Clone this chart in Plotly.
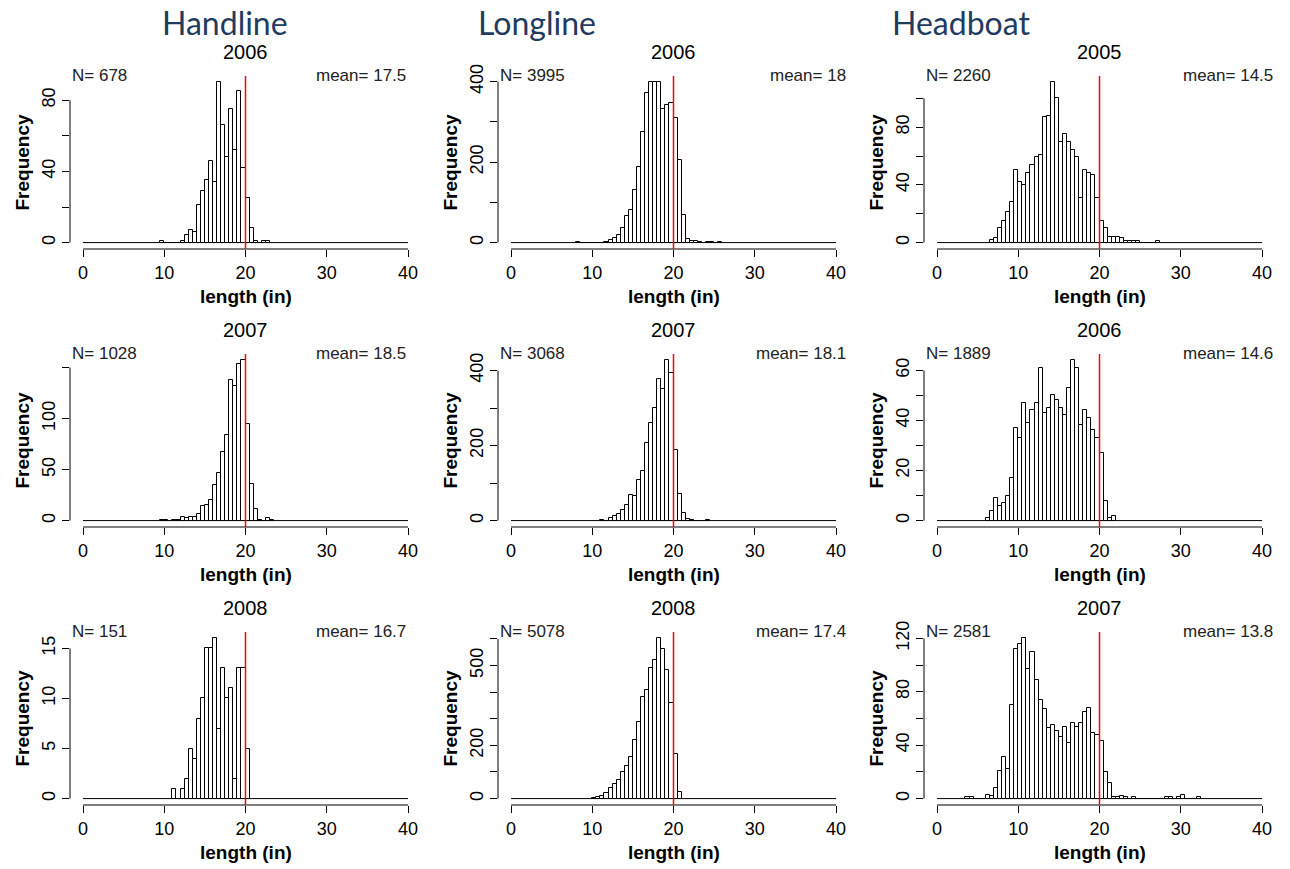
import plotly.graph_objects as go

W, H = 1290, 869
BIN_WIDTH = 0.5
REF_LENGTH = 20
X_TICKS = [0, 10, 20, 30, 40]
X_LABELS = ["0", "10", "20", "30", "40"]
X_LIMITS = [0, 40]

GEARS = ["Handline", "Longline", "Headboat"]

# ---------------- Handline ----------------
HL2006_START = 9.5
HL2006_COUNTS = [1, 0, 0, 0, 0, 1, 4, 7, 6, 21, 29, 35, 46, 34, 90, 66, 48, 75, 52, 85, 42, 25, 8, 1, 0, 1, 1]
HL2006_YTICKS = [0, 20, 40, 60, 80]
HL2006_YLABELS = ["0", "", "40", "", "80"]

HL2007_START = 9.5
HL2007_COUNTS = [1, 1, 0, 1, 1, 4, 3, 4, 4, 6, 14, 15, 20, 35, 47, 67, 84, 138, 132, 153, 157, 95, 36, 11, 1, 0, 3, 1]
HL2007_YTICKS = [0, 50, 100, 150]
HL2007_YLABELS = ["0", "50", "100", ""]

HL2008_START = 11.0
HL2008_COUNTS = [1, 0, 1, 2, 5, 4, 8, 10, 15, 15, 16, 7, 13, 10, 11, 2, 13, 13, 5]
HL2008_YTICKS = [0, 5, 10, 15]
HL2008_YLABELS = ["0", "5", "10", "15"]

# ---------------- Longline ----------------
LL2006_START = 8.0
LL2006_COUNTS = [2, 0, 0, 0, 0, 0, 0, 2, 7, 12, 19, 37, 66, 80, 131, 187, 274, 371, 398, 398, 398,
                 331, 342, 348, 309, 205, 69, 8, 5, 5, 2, 0, 2, 2, 0, 2]
LL2006_YTICKS = [0, 100, 200, 300, 400]
LL2006_YLABELS = ["0", "", "200", "", "400"]

LL2007_START = 11.0
LL2007_COUNTS = [2, 0, 8, 12, 18, 27, 42, 68, 65, 107, 133, 206, 261, 300, 377, 350, 427, 393, 187, 71,
                 19, 4, 2, 0, 0, 0, 2]
LL2007_YTICKS = [0, 100, 200, 300, 400]
LL2007_YLABELS = ["0", "", "200", "", "400"]

LL2008_START = 10.0
LL2008_COUNTS = [1, 5, 11, 21, 39, 55, 71, 100, 124, 156, 219, 287, 381, 409, 490, 519, 602, 561, 484,
                 359, 166, 24]
LL2008_YTICKS = [0, 100, 200, 300, 400, 500, 600]
LL2008_YLABELS = ["0", "", "200", "", "", "500", ""]

# ---------------- Headboat ----------------
HB2005_START = 6.5
HB2005_COUNTS = [2, 3, 10, 15, 21, 28, 50, 42, 40, 48, 54, 59, 61, 87, 88, 111, 100, 70, 75, 70, 64, 59,
                 31, 50, 48, 47, 31, 15, 10, 4, 4, 4, 3, 1, 1, 1, 1, 0, 0, 0, 0, 1]
HB2005_YTICKS = [0, 20, 40, 60, 80, 100]
HB2005_YLABELS = ["0", "", "40", "", "80", ""]

HB2006_START = 6.0
HB2006_COUNTS = [1, 4, 9, 6, 7, 10, 17, 37, 33, 47, 39, 44, 47, 61, 43, 45, 50, 48, 45, 42, 53, 64, 61,
                 38, 44, 41, 36, 33, 27, 8, 1, 2]
HB2006_YTICKS = [0, 10, 20, 30, 40, 50, 60]
HB2006_YLABELS = ["0", "", "20", "", "40", "", "60"]

HB2007_START = 3.5
HB2007_COUNTS = [1, 1, 0, 0, 0, 3, 2, 8, 21, 31, 22, 70, 112, 116, 120, 97, 110, 89, 74, 67, 53, 55, 51,
                 46, 54, 42, 57, 54, 57, 65, 68, 49, 48, 43, 20, 12, 1, 1, 2, 1, 0, 1, 0, 0, 0, 0, 0,
                 0, 0, 1, 1, 0, 1, 3, 0, 0, 0, 1]
HB2007_YTICKS = [0, 20, 40, 60, 80, 100, 120]
HB2007_YLABELS = ["0", "", "40", "", "80", "", "120"]

PANELS = [
    # row 0
    ("2006", "N= 678", "mean= 17.5", HL2006_START, HL2006_COUNTS, HL2006_YTICKS, HL2006_YLABELS),
    ("2006", "N= 3995", "mean= 18", LL2006_START, LL2006_COUNTS, LL2006_YTICKS, LL2006_YLABELS),
    ("2005", "N= 2260", "mean= 14.5", HB2005_START, HB2005_COUNTS, HB2005_YTICKS, HB2005_YLABELS),
    # row 1
    ("2007", "N= 1028", "mean= 18.5", HL2007_START, HL2007_COUNTS, HL2007_YTICKS, HL2007_YLABELS),
    ("2007", "N= 3068", "mean= 18.1", LL2007_START, LL2007_COUNTS, LL2007_YTICKS, LL2007_YLABELS),
    ("2006", "N= 1889", "mean= 14.6", HB2006_START, HB2006_COUNTS, HB2006_YTICKS, HB2006_YLABELS),
    # row 2
    ("2008", "N= 151", "mean= 16.7", HL2008_START, HL2008_COUNTS, HL2008_YTICKS, HL2008_YLABELS),
    ("2008", "N= 5078", "mean= 17.4", LL2008_START, LL2008_COUNTS, LL2008_YTICKS, LL2008_YLABELS),
    ("2007", "N= 2581", "mean= 13.8", HB2007_START, HB2007_COUNTS, HB2007_YTICKS, HB2007_YLABELS),
]

# layout geometry (pixels)
COL_LEFT = [70, 498, 924]
COL_RIGHT = [421, 849, 1275]
MEAN_RIGHT = [408, 848, 1275]
ROW_TOP = [76, 354, 632]
ROW_BOT = [249, 527, 805]
HEADER_X = [160, 476, 890]

FONT = "Liberation Sans, Arial, sans-serif"


def px(x):
    return x / W


def py(y):
    return 1 - y / H


fig = go.Figure()
layout = dict(
    width=W, height=H, autosize=False,
    margin=dict(l=0, r=0, t=0, b=0, pad=0, autoexpand=False),
    paper_bgcolor="white", plot_bgcolor="white", showlegend=False,
    bargap=0, font=dict(family=FONT, color="black"),
)
shapes = []
annotations = []

for i, (year, ntxt, mtxt, start, counts, yticks, ylabels) in enumerate(PANELS):
    r, c = divmod(i, 3)
    k = "" if i == 0 else str(i + 1)
    xa, ya = "x" + k, "y" + k
    centers = [start + BIN_WIDTH * (j + 0.5) for j in range(len(counts))]
    fig.add_trace(go.Bar(
        x=centers, y=counts, width=BIN_WIDTH, xaxis=xa, yaxis=ya,
        marker=dict(color="white", line=dict(color="black", width=1)),
        hoverinfo="x+y",
    ))
    ymax = max(counts)
    span = X_LIMITS[1] - X_LIMITS[0]
    xr = [X_LIMITS[0] - 0.04 * span, X_LIMITS[1] + 0.04 * span]
    yr = [-0.04 * ymax, 1.04 * ymax]
    layout["xaxis" + k] = dict(
        domain=[px(COL_LEFT[c]), px(COL_RIGHT[c])], anchor=ya, range=xr,
        showgrid=False, zeroline=False, showline=False, automargin=False,
        ticks="outside", ticklen=7, tickwidth=1, tickcolor="black",
        tickvals=X_TICKS, ticktext=X_LABELS, tickfont=dict(size=18, family=FONT),
        fixedrange=True,
    )
    layout["yaxis" + k] = dict(
        domain=[py(ROW_BOT[r]), py(ROW_TOP[r])], anchor=xa, range=yr,
        showgrid=False, zeroline=False, showline=False, automargin=False,
        ticks="outside", ticklen=7, tickwidth=1, tickcolor="black",
        tickvals=yticks, ticktext=ylabels, tickangle=-90,
        tickfont=dict(size=18, family=FONT), fixedrange=True,
    )
    # baseline of histogram (empty bins)
    shapes.append(dict(type="line", xref=xa, yref=ya, x0=X_LIMITS[0], x1=X_LIMITS[1], y0=0, y1=0,
                       line=dict(color="black", width=1), layer="below"))
    # x axis line
    shapes.append(dict(type="line", xref=xa, yref=ya + " domain", x0=X_TICKS[0], x1=X_TICKS[-1], y0=0, y1=0,
                       line=dict(color="black", width=1)))
    # y axis line
    shapes.append(dict(type="line", xref=xa + " domain", yref=ya, x0=0, x1=0, y0=yticks[0], y1=yticks[-1],
                       line=dict(color="black", width=1)))
    # reference line
    shapes.append(dict(type="line", xref=xa, yref=ya + " domain", x0=REF_LENGTH, x1=REF_LENGTH, y0=0, y1=1,
                       line=dict(color="#FF0000", width=1.5), layer="above"))

    cx = (COL_LEFT[c] + COL_RIGHT[c]) / 2
    annotations.append(dict(text=year, x=px(cx), y=py(ROW_TOP[r] - 24), xref="paper", yref="paper",
                            showarrow=False, xanchor="center", yanchor="middle",
                            font=dict(size=20, family=FONT, color="black")))
    annotations.append(dict(text=ntxt, x=px(COL_LEFT[c]), y=py(ROW_TOP[r] - 1), xref="paper", yref="paper",
                            showarrow=False, xanchor="left", yanchor="middle",
                            font=dict(size=17, family=FONT, color="#222222")))
    annotations.append(dict(text=mtxt, x=px(MEAN_RIGHT[c]), y=py(ROW_TOP[r] - 1), xref="paper", yref="paper",
                            showarrow=False, xanchor="right", yanchor="middle",
                            font=dict(size=17, family=FONT, color="#222222")))
    annotations.append(dict(text="<b>length (in)</b>", x=px(cx), y=py(ROW_BOT[r] + 47), xref="paper",
                            yref="paper", showarrow=False, xanchor="center", yanchor="middle",
                            font=dict(size=19, family=FONT, color="black")))
    annotations.append(dict(text="<b>Frequency</b>", x=px(COL_LEFT[c] - 48), y=py((ROW_TOP[r] + ROW_BOT[r]) / 2),
                            xref="paper", yref="paper", showarrow=False, xanchor="center", yanchor="middle",
                            textangle=-90, font=dict(size=19, family=FONT, color="black")))

for c, g in enumerate(GEARS):
    annotations.append(dict(text=g, x=px(HEADER_X[c]), y=py(22), xref="paper", yref="paper",
                            showarrow=False, xanchor="left", yanchor="middle",
                            font=dict(size=32, family="Lato, Open Sans, sans-serif", color="#1F3B5F")))

layout["shapes"] = shapes
layout["annotations"] = annotations
fig.update_layout(**layout)
fig.write_html("out.html", config={"displayModeBar": False})
